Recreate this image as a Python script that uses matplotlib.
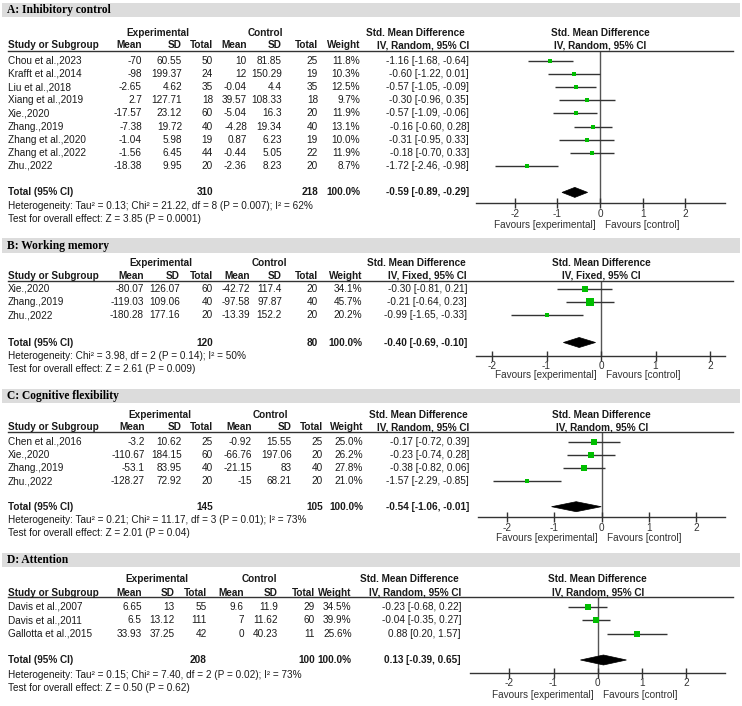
import matplotlib
matplotlib.use('Agg')
import matplotlib.pyplot as plt
from matplotlib.lines import Line2D
from matplotlib.patches import Rectangle, Polygon
import numpy as np

plt.rcParams['axes.unicode_minus'] = False

# ---------------- DATA ----------------
# A: Inhibitory control
a_title = "A: Inhibitory control"
a_method = "IV, Random, 95% CI"
a_studies = ["Chou et al.,2023", "Krafft et al.,2014", "Liu et al.,2018", "Xiang et al.,2019",
             "Xie.,2020", "Zhang.,2019", "Zhang et al.,2020", "Zhang et al.,2022", "Zhu.,2022"]
a_exp_mean = [-70, -98, -2.65, 2.7, -17.57, -7.38, -1.04, -1.56, -18.38]
a_exp_sd = [60.55, 199.37, 4.62, 127.71, 23.12, 19.72, 5.98, 6.45, 9.95]
a_exp_n = [50, 24, 35, 18, 60, 40, 19, 44, 20]
a_ctl_mean = [10, 12, -0.04, 39.57, -5.04, -4.28, 0.87, -0.44, -2.36]
a_ctl_sd = [81.85, 150.29, 4.4, 108.33, 16.3, 19.34, 6.23, 5.05, 8.23]
a_ctl_n = [25, 19, 35, 18, 20, 40, 19, 22, 20]
a_weight = [11.8, 10.3, 12.5, 9.7, 11.9, 13.1, 10.0, 11.9, 8.7]
a_smd = [-1.16, -0.60, -0.57, -0.30, -0.57, -0.16, -0.31, -0.18, -1.72]
a_lo = [-1.68, -1.22, -1.05, -0.96, -1.09, -0.60, -0.95, -0.70, -2.46]
a_hi = [-0.64, 0.01, -0.09, 0.35, -0.06, 0.28, 0.33, 0.33, -0.98]
a_total = [310, 218]
a_total_weight = 100.0
a_pooled = [-0.59, -0.89, -0.29]
a_het = "Heterogeneity: Tau\u00b2 = 0.13; Chi\u00b2 = 21.22, df = 8 (P = 0.007); I\u00b2 = 62%"
a_test = "Test for overall effect: Z = 3.85 (P = 0.0001)"

# B: Working memory
b_title = "B: Working memory"
b_method = "IV, Fixed, 95% CI"
b_studies = ["Xie.,2020", "Zhang.,2019", "Zhu.,2022"]
b_exp_mean = [-80.07, -119.03, -180.28]
b_exp_sd = [126.07, 109.06, 177.16]
b_exp_n = [60, 40, 20]
b_ctl_mean = [-42.72, -97.58, -13.39]
b_ctl_sd = [117.4, 97.87, 152.2]
b_ctl_n = [20, 40, 20]
b_weight = [34.1, 45.7, 20.2]
b_smd = [-0.30, -0.21, -0.99]
b_lo = [-0.81, -0.64, -1.65]
b_hi = [0.21, 0.23, -0.33]
b_total = [120, 80]
b_total_weight = 100.0
b_pooled = [-0.40, -0.69, -0.10]
b_het = "Heterogeneity: Chi\u00b2 = 3.98, df = 2 (P = 0.14); I\u00b2 = 50%"
b_test = "Test for overall effect: Z = 2.61 (P = 0.009)"

# C: Cognitive flexibility
c_title = "C: Cognitive flexibility"
c_method = "IV, Random, 95% CI"
c_studies = ["Chen et al.,2016", "Xie.,2020", "Zhang.,2019", "Zhu.,2022"]
c_exp_mean = [-3.2, -110.67, -53.1, -128.27]
c_exp_sd = [10.62, 184.15, 83.95, 72.92]
c_exp_n = [25, 60, 40, 20]
c_ctl_mean = [-0.92, -66.76, -21.15, -15]
c_ctl_sd = [15.55, 197.06, 83, 68.21]
c_ctl_n = [25, 20, 40, 20]
c_weight = [25.0, 26.2, 27.8, 21.0]
c_smd = [-0.17, -0.23, -0.38, -1.57]
c_lo = [-0.72, -0.74, -0.82, -2.29]
c_hi = [0.39, 0.28, 0.06, -0.85]
c_total = [145, 105]
c_total_weight = 100.0
c_pooled = [-0.54, -1.06, -0.01]
c_het = "Heterogeneity: Tau\u00b2 = 0.21; Chi\u00b2 = 11.17, df = 3 (P = 0.01); I\u00b2 = 73%"
c_test = "Test for overall effect: Z = 2.01 (P = 0.04)"

# D: Attention
d_title = "D: Attention"
d_method = "IV, Random, 95% CI"
d_studies = ["Davis et al.,2007", "Davis et al.,2011", "Gallotta et al.,2015"]
d_exp_mean = [6.65, 6.5, 33.93]
d_exp_sd = [13, 13.12, 37.25]
d_exp_n = [55, 111, 42]
d_ctl_mean = [9.6, 7, 0]
d_ctl_sd = [11.9, 11.62, 40.23]
d_ctl_n = [29, 60, 11]
d_weight = [34.5, 39.9, 25.6]
d_smd = [-0.23, -0.04, 0.88]
d_lo = [-0.68, -0.35, 0.20]
d_hi = [0.22, 0.27, 1.57]
d_total = [208, 100]
d_total_weight = 100.0
d_pooled = [0.13, -0.39, 0.65]
d_het = "Heterogeneity: Tau\u00b2 = 0.15; Chi\u00b2 = 7.40, df = 2 (P = 0.02); I\u00b2 = 73%"
d_test = "Test for overall effect: Z = 0.50 (P = 0.62)"

ticks = [-2, -1, 0, 1, 2]

# ---------------- LAYOUT (pixels) ----------------
W, H = 742, 706
layouts = [
    dict(band=(3, 17), title_y=10, exp_y=33, hdr_y=45, ul_y=51, row0=60.7, step=13.16,
         tot_y=192.4, het_y=206, test_y=219, axis_y=203.3, tick_y=213, fav_y=225,
         zero=600, unit=42.7, ax_x0=476, ax_x1=725,
         cols=[142, 182, 213, 247, 282, 318, 360, 469], exp_c=158, ctl_c=265.5, smd_c=415),
    dict(band=(238, 253), title_y=246, exp_y=263, hdr_y=276, ul_y=281, row0=288.7, step=13.15,
         tot_y=342.5, het_y=356, test_y=368.5, axis_y=356, tick_y=364.5, fav_y=375.5,
         zero=601, unit=54.5, ax_x0=476, ax_x1=725,
         cols=[144, 180, 213, 250, 282, 318, 362, 467], exp_c=161, ctl_c=269, smd_c=416),
    dict(band=(389, 403), title_y=396, exp_y=415, hdr_y=427, ul_y=432, row0=441.7, step=13.1,
         tot_y=506.7, het_y=520, test_y=533, axis_y=516.7, tick_y=526.7, fav_y=538,
         zero=601.7, unit=47.3, ax_x0=478, ax_x1=725,
         cols=[145, 182, 213, 252, 292, 323, 363, 469], exp_c=160, ctl_c=270, smd_c=418),
    dict(band=(553, 567), title_y=560, exp_y=579, hdr_y=592.7, ul_y=597, row0=606.7, step=13.65,
         tot_y=660, het_y=675, test_y=688, axis_y=672.7, tick_y=681.7, fav_y=695,
         zero=597.7, unit=44.2, ax_x0=470, ax_x1=725,
         cols=[141.7, 175, 207, 244, 278, 315, 351.7, 461], exp_c=157, ctl_c=259.5, smd_c=409),
]

panels = [
    dict(title=a_title, method=a_method, studies=a_studies, em=a_exp_mean, esd=a_exp_sd, en=a_exp_n,
         cm=a_ctl_mean, csd=a_ctl_sd, cn=a_ctl_n, w=a_weight, smd=a_smd, lo=a_lo, hi=a_hi,
         total=a_total, tw=a_total_weight, pooled=a_pooled, het=a_het, test=a_test),
    dict(title=b_title, method=b_method, studies=b_studies, em=b_exp_mean, esd=b_exp_sd, en=b_exp_n,
         cm=b_ctl_mean, csd=b_ctl_sd, cn=b_ctl_n, w=b_weight, smd=b_smd, lo=b_lo, hi=b_hi,
         total=b_total, tw=b_total_weight, pooled=b_pooled, het=b_het, test=b_test),
    dict(title=c_title, method=c_method, studies=c_studies, em=c_exp_mean, esd=c_exp_sd, en=c_exp_n,
         cm=c_ctl_mean, csd=c_ctl_sd, cn=c_ctl_n, w=c_weight, smd=c_smd, lo=c_lo, hi=c_hi,
         total=c_total, tw=c_total_weight, pooled=c_pooled, het=c_het, test=c_test),
    dict(title=d_title, method=d_method, studies=d_studies, em=d_exp_mean, esd=d_exp_sd, en=d_exp_n,
         cm=d_ctl_mean, csd=d_ctl_sd, cn=d_ctl_n, w=d_weight, smd=d_smd, lo=d_lo, hi=d_hi,
         total=d_total, tw=d_total_weight, pooled=d_pooled, het=d_het, test=d_test),
]

SANS = 'Liberation Sans'
SERIF = 'Liberation Serif'
FS = 7.2
TXT = '#1a1a1a'
GREEN = '#00BE00'
BAND = '#DCDCDC'

fig = plt.figure(figsize=(W / 100, H / 100), dpi=100)
fig.patch.set_facecolor('white')


def fx(x):
    return x / W


def fy(y):
    return 1 - y / H


def txt(x, y, s, ha='left', bold=False, size=FS, family=SANS, color=TXT):
    fig.text(fx(x), fy(y), s, ha=ha, va='center', fontsize=size, family=family,
             fontweight='bold' if bold else 'normal', color=color)


def fmt(v):
    return f"{v:g}"


def ci(a, b, c):
    return f"{a:.2f} [{b:.2f}, {c:.2f}]"


for p, L in zip(panels, layouts):
    # band + title
    b0, b1 = L['band']
    fig.add_artist(Rectangle((fx(2), fy(b1)), fx(740) - fx(2), (b1 - b0) / H,
                             transform=fig.transFigure, facecolor=BAND, edgecolor='none'))
    txt(7, L['title_y'], p['title'], bold=True, size=8.3, family=SERIF, color='black')

    cols = L['cols']
    # group headers
    txt(L['exp_c'], L['exp_y'], "Experimental", ha='center', bold=True)
    txt(L['ctl_c'], L['exp_y'], "Control", ha='center', bold=True)
    txt(L['smd_c'], L['exp_y'], "Std. Mean Difference", ha='center', bold=True)
    txt(L['zero'], L['exp_y'], "Std. Mean Difference", ha='center', bold=True)
    # column headers
    hy = L['hdr_y']
    txt(8, hy, "Study or Subgroup", bold=True)
    for x, s in zip(cols[:7], ["Mean", "SD", "Total", "Mean", "SD", "Total", "Weight"]):
        txt(x, hy, s, ha='right', bold=True)
    txt(cols[7], hy, p['method'], ha='right', bold=True)
    txt(L['zero'], hy, p['method'], ha='center', bold=True)
    fig.add_artist(Line2D([fx(8), fx(733)], [fy(L['ul_y'])] * 2, color='#333333', lw=1.0,
                          transform=fig.transFigure))

    # study rows
    ys = [L['row0'] + i * L['step'] for i in range(len(p['studies']))]
    for i, y in enumerate(ys):
        txt(8, y, p['studies'][i])
        vals = [fmt(p['em'][i]), fmt(p['esd'][i]), str(p['en'][i]), fmt(p['cm'][i]),
                fmt(p['csd'][i]), str(p['cn'][i]), f"{p['w'][i]:.1f}%"]
        for x, s in zip(cols[:7], vals):
            txt(x, y, s, ha='right')
        txt(cols[7], y, ci(p['smd'][i], p['lo'][i], p['hi'][i]), ha='right')

    # total row
    ty = L['tot_y']
    txt(8, ty, "Total (95% CI)", bold=True)
    txt(cols[2], ty, str(p['total'][0]), ha='right', bold=True)
    txt(cols[5], ty, str(p['total'][1]), ha='right', bold=True)
    txt(cols[6], ty, f"{p['tw']:.1f}%", ha='right', bold=True)
    txt(cols[7], ty, ci(*p['pooled']), ha='right', bold=True)
    txt(8, L['het_y'], p['het'])
    txt(8, L['test_y'], p['test'])

    # forest axes
    x0, x1 = L['ax_x0'], L['ax_x1']
    ay, uy = L['axis_y'], L['ul_y']
    ax = fig.add_axes([fx(x0), fy(ay), (x1 - x0) / W, (ay - uy) / H])
    ax.set_xlim((x0 - L['zero']) / L['unit'], (x1 - L['zero']) / L['unit'])
    ax.set_ylim(ay, uy)
    ax.patch.set_visible(False)
    for s in ['top', 'left', 'right']:
        ax.spines[s].set_visible(False)
    ax.spines['bottom'].set_color('#333333')
    ax.spines['bottom'].set_linewidth(1.0)
    ax.set_yticks([])
    ax.set_xticks(ticks)
    ax.set_xticklabels([str(t) for t in ticks], fontfamily=SANS, fontsize=FS, color='#333333')
    pad_px = max(0.0, L['tick_y'] - ay - 5.2 - 3.5)
    ax.tick_params(axis='x', direction='inout', length=7, width=1, color='#333333',
                   pad=pad_px * 0.72)
    ax.axvline(0, color='#555555', lw=1.0, zorder=1)
    for i, y in enumerate(ys):
        ax.plot([p['lo'][i], p['hi'][i]], [y, y], color='#333333', lw=1.0, zorder=2,
                solid_capstyle='butt')
        side_px = 1.05 * np.sqrt(p['w'][i])
        ax.plot([p['smd'][i]], [y], marker='s', ms=side_px * 0.72, mew=0, color=GREEN,
                zorder=3, linestyle='none')
    est, lo, hi = p['pooled']
    hh = 5.0
    ax.add_patch(Polygon([(lo, ty), (est, ty - hh), (hi, ty), (est, ty + hh)], closed=True,
                         facecolor='black', edgecolor='black', lw=0.5, zorder=3))

    txt(L['zero'] - 4, L['fav_y'], "Favours [experimental]", ha='right', color='#333333')
    txt(L['zero'] + 5, L['fav_y'], "Favours [control]", ha='left', color='#333333')

fig.savefig('out.png', dpi=100, facecolor='white')
